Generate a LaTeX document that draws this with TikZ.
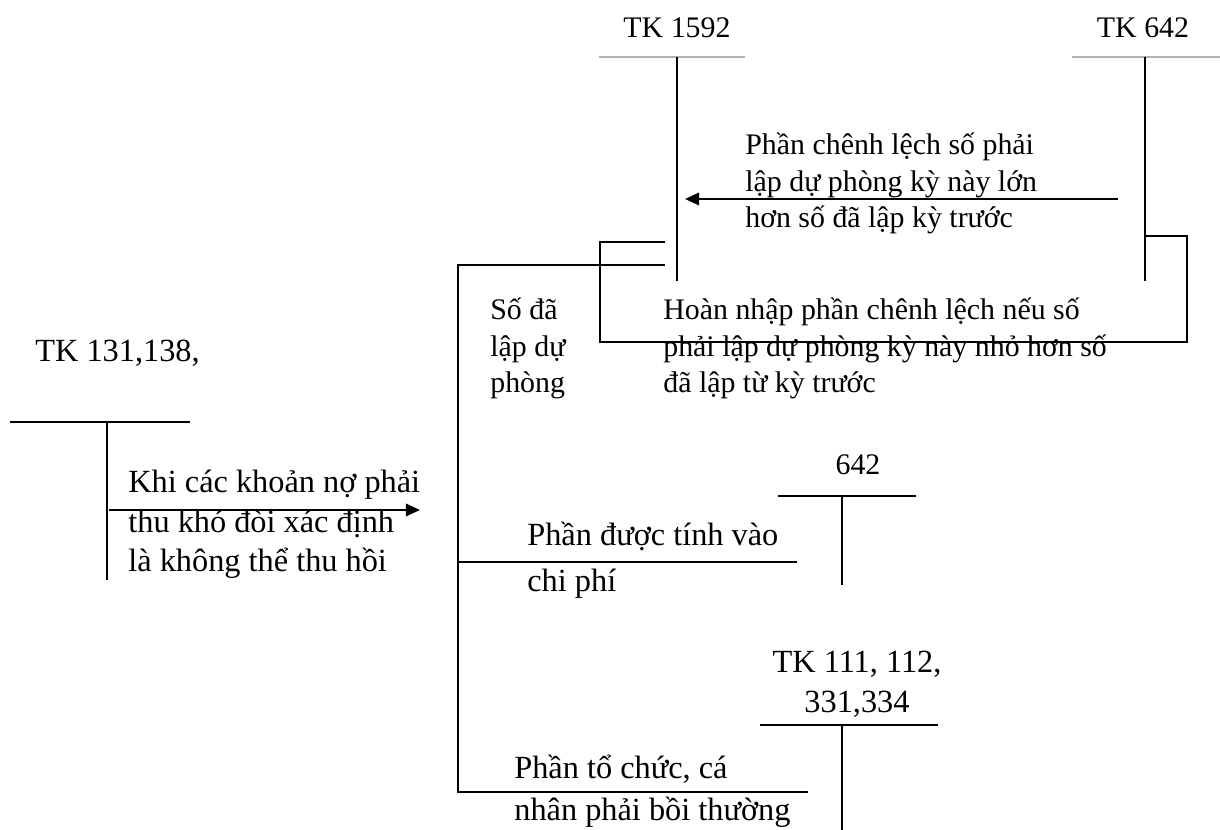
\documentclass[tikz,border=0pt]{standalone}
\usepackage{fontspec}
\setmainfont{Liberation Serif}
\usetikzlibrary{arrows.meta}

\begin{document}
\begin{tikzpicture}[x=0.02cm, y=-0.02cm,
  every node/.style={font=\fontsize{17}{21}\selectfont, inner sep=0pt},
  big/.style={font=\fontsize{18.4}{22.5}\selectfont},
  note/.style={align=left, anchor=base west},
  acct/.style={align=center, anchor=base},
  tline/.style={line width=0.9pt},
  rule/.style={line width=0.6pt, black!30},
  link/.style={line width=0.6pt},
  flow/.style={line width=1.4pt, -{Triangle[length=8pt, width=7pt]}}]

  \useasboundingbox (0,0) rectangle (1220,830);

  % account headings
  \node[acct] (tk1592) at (677,38) {TK 1592};
  \node[acct] (tk642) at (1143,38) {TK 642};
  \node[note, big] (tk131) at (35,362) {TK 131,138,};
  \node[acct] (tk642b) at (858,475) {642};
  \node[acct, big] (tk111) at (857,712) {TK 111, 112,\\331,334};

  % T-account lines
  \coordinate (t1592) at (677,57);
  \coordinate (t642) at (1145,57);
  \coordinate (t131) at (107,422);
  \coordinate (t642b) at (842,496);
  \coordinate (t111) at (842,725);
  \draw[rule] (599,57) -- (745,57);
  \draw[tline] (t1592) -- (677,281);
  \draw[rule] (1072,57) -- (1220,57);
  \draw[tline] (t642) -- (1145,281);
  \draw[link] (10,422) -- (190,422);
  \draw[link] (t131) -- (107,580);
  \draw[link] (778,496) -- (916,496);
  \draw[link] (t642b) -- (842,585);
  \draw[link] (760,725) -- (938,725);
  \draw[link] (t111) -- (842,830);

  % texts (base = last line)
  \node[note] (lon) at (745,228) {Phần chênh lệch số phải\\lập dự phòng kỳ này lớn\\hơn số đã lập kỳ trước};
  \node[note] (nho) at (663,393) {Hoàn nhập phần chênh lệch nếu số\\phải lập dự phòng kỳ này nhỏ hơn số\\đã lập từ kỳ trước};
  \node[note] (dalap) at (490,393) {Số đã\\lập dự\\phòng};
  \node[note, big] (khoanno) at (128,572) {Khi các khoản nợ phải\\thu khó đòi xác định\\là không thể thu hồi};
  \node[note, big] (chiphi) at (527,592) {Phần được tính vào\\[4pt]chi phí};
  \node[note, big] (boithuong) at (514,820) {Phần tổ chức, cá\\[1pt]nhân phải bồi thường};

  % flows
  \coordinate (from642) at (1118,199);
  \coordinate (to1592) at (685,199);
  \draw[flow] (from642) -- (to1592);
  \coordinate (from131) at (109,510);
  \coordinate (to1592b) at (420,510);
  \draw[flow] (from131) -- (to1592b);

  \coordinate (hoan642) at (1145,236);
  \coordinate (hoan1592) at (665,242);
  \draw[link] (hoan642) -- (1187,236) -- (1187,342) -- (600,342) -- (600,242) -- (hoan1592);

  \coordinate (du1592) at (665,265);
  \draw[link] (du1592) -- (458,265) -- (458,792) -- (808,792);
  \draw[link] (458,562) -- (797,562);
\end{tikzpicture}
\end{document}
